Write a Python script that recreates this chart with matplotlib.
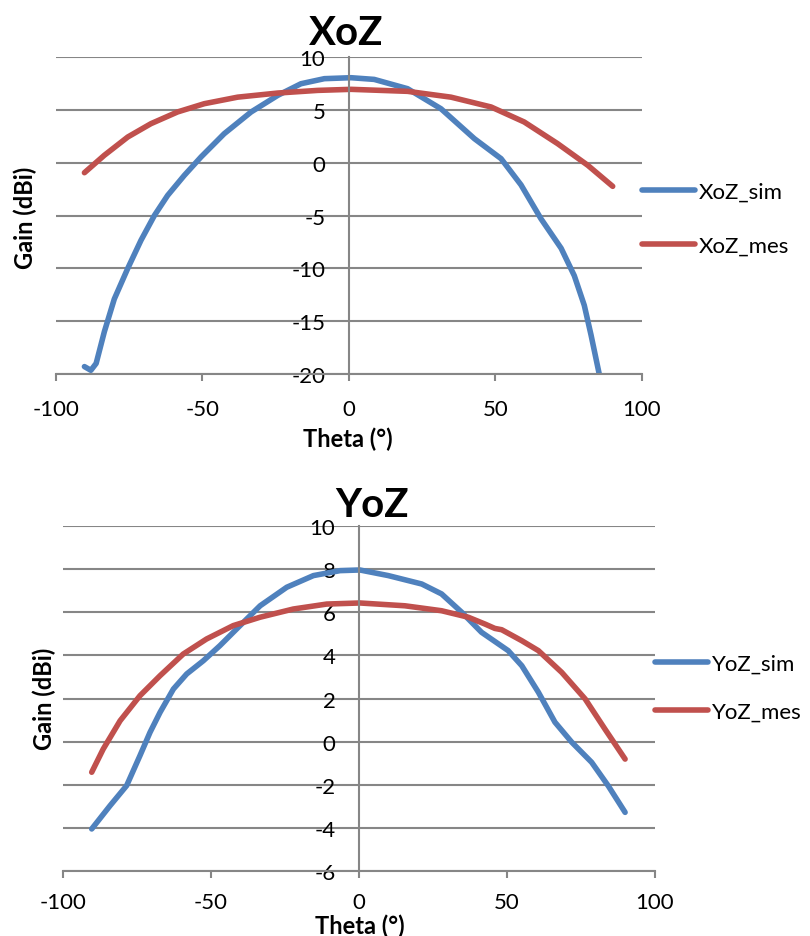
import numpy as np
import matplotlib
matplotlib.use("Agg")
import matplotlib.pyplot as plt

plt.rcParams['font.family'] = ['Lato', 'DejaVu Sans']
plt.rcParams['axes.unicode_minus'] = False

# XoZ plane
xoz_sim_theta = [-90.3, -88.1, -86.3, -83.5, -80.1, -75.5, -71.0, -66.4, -61.9, -56.2, -50.5, -42.6,
                 -33.4, -24.3, -16.4, -8.4, 0.7, 8.6, 20.0, 31.4, 42.8, 51.9, 58.7, 65.5, 72.4,
                 76.9, 80.3, 82.6, 85.4, 86.0]
xoz_sim_gain = [-19.3, -19.65, -19.0, -16.0, -12.9, -10.0, -7.35, -4.99, -3.1, -1.2, 0.54, 2.74,
                4.8, 6.37, 7.47, 7.95, 8.04, 7.88, 7.0, 5.1, 2.27, 0.38, -2.1, -5.3, -8.1,
                -10.7, -13.5, -16.3, -20.0, -20.8]
xoz_mes_theta = [-90.3, -83.5, -75.5, -67.6, -58.5, -49.4, -38.0, -24.3, -10.7, 0.7, 20.0, 34.8,
                 48.5, 59.8, 71.2, 81.5, 90.0]
xoz_mes_gain = [-0.95, 0.7, 2.43, 3.69, 4.8, 5.58, 6.2, 6.59, 6.84, 6.94, 6.75, 6.2,
                5.27, 3.85, 1.8, -0.25, -2.24]

# YoZ plane
yoz_sim_theta = [-90.3, -84.1, -78.5, -74.0, -70.6, -67.2, -62.7, -58.2, -52.6, -47.0, -40.2, -33.4,
                 -24.4, -15.4, -6.4, 0.3, 9.9, 21.2, 27.9, 34.7, 41.4, 50.4, 55.0, 60.6, 66.2,
                 71.9, 78.6, 84.2, 89.9]
yoz_sim_gain = [-4.05, -2.97, -2.04, -0.65, 0.43, 1.36, 2.44, 3.14, 3.75, 4.45, 5.38, 6.3,
                7.16, 7.7, 7.93, 7.96, 7.7, 7.31, 6.85, 6.0, 5.07, 4.22, 3.52, 2.29, 0.9,
                -0.03, -0.96, -2.05, -3.28]
yoz_mes_theta = [-90.3, -86.4, -80.7, -74.0, -67.2, -59.4, -51.5, -42.5, -33.4, -22.2, -10.9, 0.3,
                 15.5, 27.9, 36.9, 42.6, 45.9, 48.2, 55.0, 60.6, 68.5, 76.4, 83.1, 89.9]
yoz_mes_gain = [-1.42, -0.34, 0.97, 2.13, 3.06, 4.06, 4.76, 5.38, 5.77, 6.15, 6.38, 6.43,
                6.3, 6.07, 5.77, 5.45, 5.25, 5.19, 4.68, 4.22, 3.21, 1.98, 0.58, -0.81]

BLUE = '#4F81BD'
RED = '#C0504D'
GRID = '#868686'

W, H = 810, 937
fig = plt.figure(figsize=(W / 100, H / 100), dpi=100)


def px_axes(l, t, r, b):
    return [l / W, 1 - b / H, (r - l) / W, (b - t) / H]


def style_axes(ax, ylo, yhi, ystep, xpad):
    ax.set_xlim(-100, 100)
    ax.set_ylim(ylo, yhi)
    ax.set_xticks(np.arange(-100, 101, 50))
    ax.set_yticks(np.arange(ylo, yhi + 0.1, ystep))
    ax.yaxis.grid(True, color=GRID, lw=1.5)
    ax.set_axisbelow(True)
    for s in ['top', 'right']:
        ax.spines[s].set_visible(False)
    ax.spines['left'].set_position(('data', 0))
    ax.spines['left'].set_color(GRID)
    ax.spines['left'].set_linewidth(1.5)
    ax.spines['bottom'].set_color(GRID)
    ax.spines['bottom'].set_linewidth(1.5)
    ax.tick_params(axis='y', length=0, pad=17, labelsize=16)
    ax.tick_params(axis='x', length=5, width=1.5, color=GRID, direction='out', pad=xpad, labelsize=16)
    ax.patch.set_alpha(0)


line_kw = dict(lw=4, solid_capstyle='round', solid_joinstyle='round')

# top chart
ax1 = fig.add_axes(px_axes(56, 58, 642, 375))
ax1.plot(xoz_sim_theta, xoz_sim_gain, color=BLUE, label='XoZ_sim', **line_kw)
ax1.plot(xoz_mes_theta, xoz_mes_gain, color=RED, label='XoZ_mes', **line_kw)
style_axes(ax1, -20, 10, 5, 13)
ax1.legend(loc='center left', bbox_to_anchor=(1.0, 0.49), frameon=False, fontsize=16,
           handlelength=2.4, handletextpad=0.15, labelspacing=1.55, borderpad=0, borderaxespad=0)

# bottom chart
ax2 = fig.add_axes(px_axes(63, 527, 655, 872))
ax2.plot(yoz_sim_theta, yoz_sim_gain, color=BLUE, label='YoZ_sim', **line_kw)
ax2.plot(yoz_mes_theta, yoz_mes_gain, color=RED, label='YoZ_mes', **line_kw)
style_axes(ax2, -6, 10, 2, 10)
ax2.legend(loc='center left', bbox_to_anchor=(1.0, 0.532), frameon=False, fontsize=16,
           handlelength=2.4, handletextpad=0.15, labelspacing=1.25, borderpad=0, borderaxespad=0)

# titles and axis labels
fig.text(346 / W, 1 - 45 / H, 'XoZ', fontsize=29, fontweight='bold', ha='center', va='baseline')
fig.text(372 / W, 1 - 517 / H, 'YoZ', fontsize=29, fontweight='bold', ha='center', va='baseline')
fig.text(348 / W, 1 - 447 / H, 'Theta (°)', fontsize=17, fontweight='bold', ha='center', va='baseline')
fig.text(360 / W, 1 - 934 / H, 'Theta (°)', fontsize=17, fontweight='bold', ha='center', va='baseline')
fig.text(25 / W, 1 - 218 / H, 'Gain (dBi)', fontsize=17, fontweight='bold', rotation=90,
         ha='center', va='center')
fig.text(44 / W, 1 - 699 / H, 'Gain (dBi)', fontsize=17, fontweight='bold', rotation=90,
         ha='center', va='center')

fig.savefig('out.png', dpi=100, facecolor='white')
